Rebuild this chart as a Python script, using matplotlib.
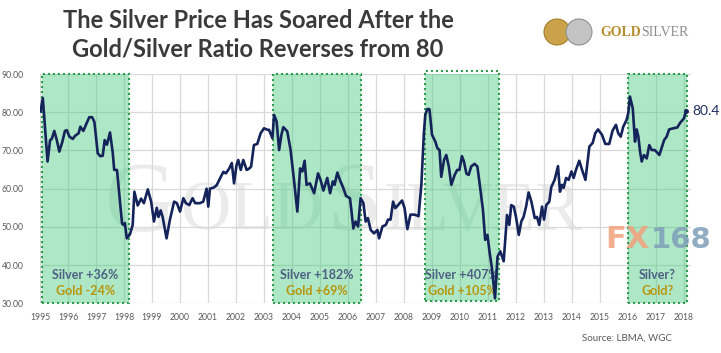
import matplotlib
matplotlib.use("Agg")
import matplotlib.pyplot as plt
from matplotlib.patches import Rectangle, Circle

# ---------------- data ----------------
years = [
    1995.02, 1995.10, 1995.27, 1995.36, 1995.42, 1995.51, 1995.60, 1995.69, 1995.80, 1995.89,
    1995.96, 1996.05, 1996.17, 1996.25, 1996.38, 1996.44, 1996.55, 1996.64, 1996.76, 1996.86,
    1996.94, 1997.00, 1997.06, 1997.15, 1997.24, 1997.31, 1997.39, 1997.50, 1997.60, 1997.65,
    1997.75, 1997.83, 1997.93, 1997.98, 1998.03, 1998.10, 1998.21, 1998.31, 1998.37, 1998.49,
    1998.61, 1998.71, 1998.85, 1998.97, 1999.07, 1999.17, 1999.23, 1999.31, 1999.38, 1999.52,
    1999.64, 1999.79, 1999.89, 2000.00, 2000.12, 2000.21, 2000.33, 2000.45, 2000.54, 2000.71,
    2000.83, 2000.95, 2001.01, 2001.07, 2001.21, 2001.31, 2001.43, 2001.55, 2001.64, 2001.76,
    2001.85, 2001.93, 2002.02, 2002.08, 2002.17, 2002.26, 2002.38, 2002.48, 2002.54, 2002.64,
    2002.76, 2002.88, 2003.00, 2003.12, 2003.18, 2003.30, 2003.36, 2003.45, 2003.54, 2003.62,
    2003.69, 2003.83, 2003.95, 2004.07, 2004.19, 2004.29, 2004.37, 2004.45, 2004.52, 2004.64,
    2004.79, 2004.93, 2005.02, 2005.12, 2005.26, 2005.36, 2005.46, 2005.52, 2005.62, 2005.71,
    2005.83, 2005.93, 2006.07, 2006.12, 2006.19, 2006.27, 2006.36, 2006.45, 2006.55, 2006.63,
    2006.71, 2006.81, 2006.93, 2007.05, 2007.11, 2007.23, 2007.35, 2007.43, 2007.52, 2007.61,
    2007.69, 2007.79, 2007.93, 2008.02, 2008.12, 2008.23, 2008.38, 2008.52, 2008.62, 2008.71,
    2008.76, 2008.83, 2008.91, 2009.00, 2009.12, 2009.19, 2009.27, 2009.33, 2009.43, 2009.51,
    2009.60, 2009.69, 2009.81, 2009.90, 2009.98, 2010.07, 2010.14, 2010.23, 2010.31, 2010.40,
    2010.52, 2010.62, 2010.70, 2010.82, 2010.90, 2010.98, 2011.06, 2011.14, 2011.25, 2011.34,
    2011.44, 2011.56, 2011.68, 2011.76, 2011.83, 2011.92, 2012.00, 2012.10, 2012.19, 2012.27,
    2012.36, 2012.45, 2012.55, 2012.67, 2012.75, 2012.83, 2012.93, 2013.00, 2013.08, 2013.19,
    2013.26, 2013.38, 2013.50, 2013.57, 2013.64, 2013.70, 2013.79, 2013.88, 2013.98, 2014.06,
    2014.14, 2014.26, 2014.36, 2014.48, 2014.62, 2014.74, 2014.83, 2014.93, 2015.07, 2015.19,
    2015.33, 2015.45, 2015.57, 2015.65, 2015.74, 2015.83, 2015.95, 2016.01, 2016.07, 2016.17,
    2016.25, 2016.31, 2016.37, 2016.43, 2016.49, 2016.57, 2016.67, 2016.76, 2016.85, 2016.96,
    2017.12, 2017.20, 2017.29, 2017.38, 2017.47, 2017.62, 2017.76, 2017.86, 2018.00, 2018.07,
]
ratio = [
    80.2, 83.7, 67.1, 72.7, 73.0, 75.1, 72.7, 69.7, 72.3, 75.1,
    75.3, 73.6, 73.0, 73.8, 74.5, 76.2, 75.1, 76.7, 78.7, 78.7,
    77.5, 73.6, 69.3, 68.5, 68.6, 72.7, 71.5, 74.7, 69.3, 64.9,
    64.9, 58.8, 50.9, 50.5, 51.0, 47.0, 48.0, 50.5, 59.2, 55.6,
    57.4, 56.2, 59.8, 56.6, 51.4, 55.0, 52.6, 54.3, 52.6, 47.0,
    51.9, 56.6, 56.2, 54.0, 57.5, 56.2, 55.7, 57.5, 56.2, 56.2,
    56.6, 60.0, 55.3, 60.0, 60.3, 60.9, 62.7, 64.4, 64.0, 65.3,
    66.7, 61.4, 66.2, 67.5, 64.9, 67.5, 64.9, 65.3, 65.8, 71.4,
    71.7, 74.5, 75.8, 75.4, 75.4, 73.2, 79.3, 77.6, 70.1, 74.0,
    76.1, 75.0, 70.1, 62.3, 54.0, 65.3, 64.5, 67.3, 61.0, 61.4,
    58.8, 64.0, 62.3, 59.5, 62.8, 58.8, 61.9, 61.0, 64.2, 62.3,
    60.2, 58.1, 57.5, 54.4, 49.6, 51.4, 50.1, 57.5, 56.2, 51.4,
    52.3, 49.2, 48.3, 49.2, 47.0, 50.1, 50.5, 51.9, 51.9, 56.6,
    54.9, 55.7, 56.9, 54.9, 49.4, 53.2, 53.2, 52.8, 61.0, 74.5,
    79.3, 80.8, 80.8, 74.1, 72.3, 70.6, 70.1, 63.1, 67.5, 68.8,
    65.8, 61.0, 63.6, 64.9, 64.9, 68.5, 67.1, 63.9, 63.6, 65.8,
    66.5, 65.8, 61.4, 54.4, 46.6, 47.9, 43.2, 39.2, 31.3, 42.2,
    43.6, 41.0, 53.1, 50.5, 55.7, 55.3, 52.6, 47.9, 51.4, 52.6,
    55.3, 59.0, 56.6, 52.3, 52.6, 50.5, 55.3, 51.9, 55.7, 56.6,
    60.4, 62.3, 65.9, 59.2, 61.0, 60.2, 62.8, 62.3, 64.5, 62.8,
    64.9, 67.3, 64.9, 62.3, 71.0, 72.0, 74.5, 75.5, 74.1, 71.7,
    71.7, 75.2, 76.7, 74.5, 73.6, 76.2, 78.0, 79.8, 84.1, 81.0,
    72.3, 75.5, 73.6, 69.7, 67.1, 68.8, 67.9, 71.4, 70.1, 70.1,
    68.8, 70.6, 72.7, 73.6, 75.5, 75.8, 76.0, 77.2, 78.4, 80.4,
]
period_start = [1995.06, 2003.33, 2008.74, 2015.99]
period_end = [1998.19, 2006.45, 2011.40, 2018.10]
silver_labels = ["Silver +36%", "Silver +182%", "Silver +407%", "Silver?"]
gold_labels = ["Gold -24%", "Gold +69%", "Gold +105%", "Gold?"]
year_ticks = list(range(1995, 2019))
value_ticks = [30, 40, 50, 60, 70, 80, 90]
last_label = "80.4"

# ---------------- figure ----------------
W, H = 721, 353
fig = plt.figure(figsize=(W / 100, H / 100), dpi=100)
fig.patch.set_facecolor("white")

def fx(px):
    return px / W

def fy(py):
    return 1 - py / H

ax = fig.add_axes([fx(40), fy(303.3), 651 / W, (303.3 - 74) / H])
ax.set_xlim(1995, 1995 + 651 / 28)
ax.set_ylim(30, 90)
ax.set_facecolor("none")
for s in ax.spines.values():
    s.set_visible(False)

ax.set_xticks(year_ticks)
ax.set_xticklabels([str(y) for y in year_ticks], fontsize=6.2, family="Lato", color="#595959")
ax.set_yticks(value_ticks)
ax.set_yticklabels([f"{v:.2f}" for v in value_ticks], fontsize=6.2, family="Lato", color="#595959")
ax.tick_params(axis="both", length=0)
ax.tick_params(axis="x", pad=7)
ax.tick_params(axis="y", pad=12)
ax.grid(True, color="#d9d9d9", linewidth=0.9, zorder=0)
ax.set_axisbelow(True)

# watermark GoldSilver (faint, behind everything in the plot)
wm = dict(family="Liberation Serif", color="#ebebeb", va="baseline", ha="left", zorder=0.5,
          transform=fig.transFigure, clip_on=False)
ax.text(fx(105), fy(230), "G", fontsize=72, **wm)
ax.text(fx(180), fy(230), "OLD", fontsize=50, **wm)
ax.text(fx(326), fy(230), "S", fontsize=72, **wm)
ax.text(fx(384), fy(230), "ILVER", fontsize=50, **wm)

# shaded periods
for i, (a, b) in enumerate(zip(period_start, period_end)):
    top, bot = (90.9, 30.7) if i == 2 else (90.0, 30.2)
    ax.add_patch(Rectangle((a, bot), b - a, top - bot, facecolor="#3cc878", alpha=0.42,
                           edgecolor="none", zorder=1))
    ax.add_patch(Rectangle((a, bot), b - a, top - bot, facecolor="none",
                           edgecolor="#2e9e4e", linestyle=(0, (1, 1.4)), linewidth=1.5, zorder=1.5,
                           clip_on=False))
    cx = (a + b) / 2
    ax.text(cx, 37.4, silver_labels[i], ha="center", va="center", fontsize=9,
            family="Lato", fontweight="bold", color="#4d6082", zorder=4)
    ax.text(cx, 33.3, gold_labels[i], ha="center", va="center", fontsize=9,
            family="Lato", fontweight="bold", color="#b8960c", zorder=4)

# FX168 watermark
ax.text(fx(605), fy(240), "FX", fontsize=22, family="DejaVu Sans", fontweight="bold",
        color="#f2a27c", ha="left", va="center", alpha=0.85, zorder=3,
        transform=fig.transFigure, clip_on=False)
ax.text(fx(651), fy(240), "168", fontsize=21, family="DejaVu Sans", fontweight="bold",
        color="#7f9fb8", ha="left", va="center", alpha=0.85, zorder=3,
        transform=fig.transFigure, clip_on=False)

# the ratio line
ax.plot(years, ratio, color="#14235a", linewidth=1.9, zorder=5, solid_joinstyle="round")
ax.plot([years[-1]], [ratio[-1]], marker="o", markersize=2.5, color="#14235a", zorder=6)
ax.text(years[-1] + 0.22, ratio[-1], last_label, ha="left", va="center", fontsize=10,
        family="Lato", color="#1f2d5c", zorder=6, clip_on=False)

# title
fig.text(fx(258), fy(21), "The Silver Price Has Soared After the", ha="center", va="center",
         fontsize=17, family="Lato", fontweight="bold", color="#3a3a3a")
fig.text(fx(258), fy(49), "Gold/Silver Ratio Reverses from 80", ha="center", va="center",
         fontsize=17, family="Lato", fontweight="bold", color="#3a3a3a")

# logo
lax = fig.add_axes([0, 0, 1, 1], facecolor="none")
lax.set_xlim(0, W)
lax.set_ylim(H, 0)
lax.axis("off")
lax.add_patch(Circle((557, 32), 13, facecolor="#c9a24a", edgecolor="#a67c2a", linewidth=0.8))
lax.add_patch(Circle((579, 32), 13, facecolor="#c4c4c4", edgecolor="#909090", linewidth=0.8))
fig.text(fx(600), fy(33), "GOLD", fontsize=10, family="Liberation Serif", fontweight="bold",
         color="#b68d2c", ha="left", va="center")
fig.text(fx(641), fy(33), "SILVER", fontsize=10, family="Liberation Serif",
         color="#8c8c8c", ha="left", va="center")

# source
fig.text(fx(672), fy(338), "Source: LBMA, WGC", fontsize=7, family="Lato", color="#595959",
         ha="right", va="center")

fig.savefig("out.png", dpi=100)
